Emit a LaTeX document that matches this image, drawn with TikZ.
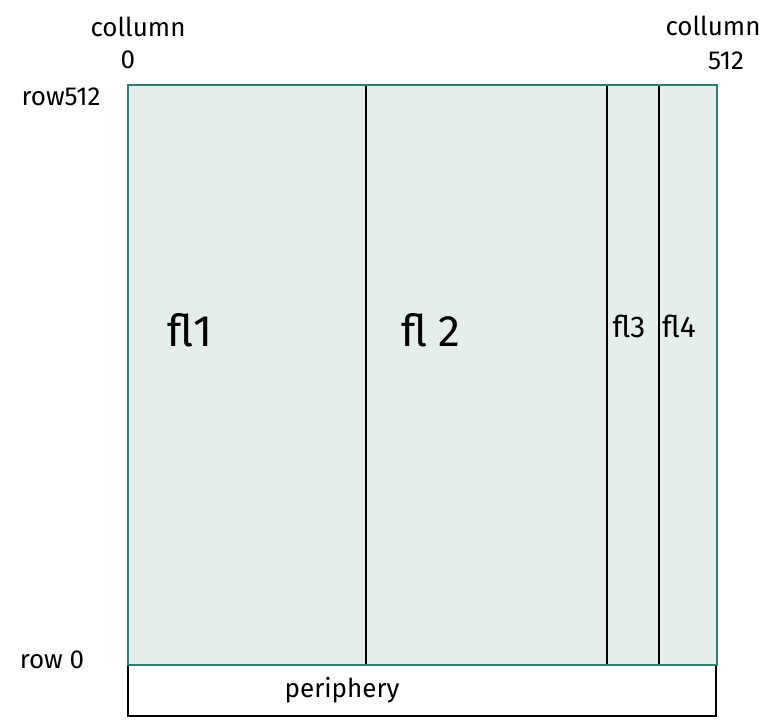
\documentclass[tikz,border=0pt]{standalone}
\usepackage{fontspec}
\setmainfont{Fira Sans}
\definecolor{cellfill}{HTML}{E5EDED}
\definecolor{cellborder}{HTML}{2F7E6E}
\begin{document}
\begin{tikzpicture}[x=1pt,y=-1pt,
  lbl/.style={font=\fontsize{26}{28}\selectfont, inner sep=0pt},
  big/.style={font=\fontsize{44}{46}\selectfont, inner sep=0pt},
  mid/.style={font=\fontsize{30}{32}\selectfont, inner sep=0pt},
  divider/.style={draw=black, line width=2.5pt}]
\useasboundingbox (0,0) rectangle (768,721);
% main area
\coordinate (tl) at (128,85);
\coordinate (br) at (717,665);
\fill[cellfill] (tl) rectangle (br);
% dividers
\coordinate (d1t) at (366,85); \coordinate (d1b) at (366,665);
\coordinate (d2t) at (607,85); \coordinate (d2b) at (607,665);
\coordinate (d3t) at (659,85); \coordinate (d3b) at (659,665);
\draw[divider] (d1t) -- (d1b);
\draw[divider] (d2t) -- (d2b);
\draw[divider] (d3t) -- (d3b);
% periphery box
\coordinate (ptl) at (128,665);
\coordinate (pbl) at (128,716);
\coordinate (pbr) at (716,716);
\coordinate (ptr) at (716,665);
\draw[black, line width=2.5pt] (ptl) -- (pbl) -- (pbr) -- (ptr);
\draw[cellborder, line width=2.5pt] (tl) rectangle (br);
% labels
\node[lbl] (c0a) at (138,27) {collumn};
\node[lbl] (c0b) at (128,60) {0};
\node[lbl] (c5a) at (713,26) {collumn};
\node[lbl] (c5b) at (726,61) {512};
\node[lbl] (r512) at (61,97) {row512};
\node[lbl] (r0) at (52,660) {row 0};
\node[lbl] (peri) at (342,690) {periphery};
\node[big] (fl1) at (190,330) {fl1};
\node[big] (fl2) at (431,330) {fl 2};
\node[mid] (fl3) at (629,326) {fl3};
\node[mid] (fl4) at (679,326) {fl4};
\end{tikzpicture}
\end{document}
